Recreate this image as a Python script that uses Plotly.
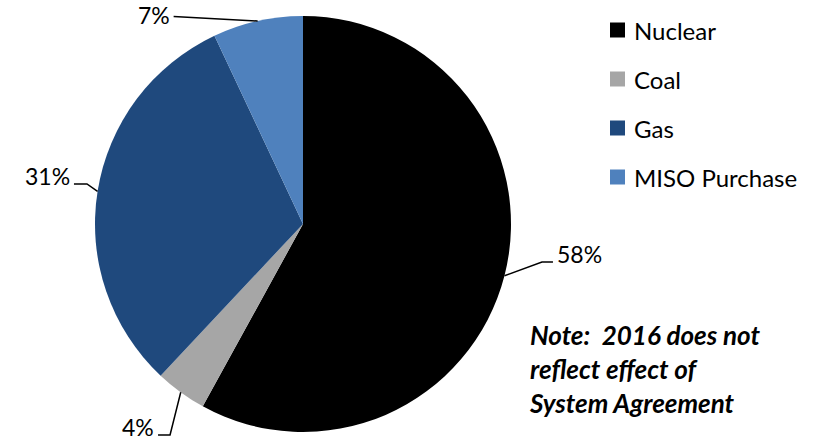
import math
import plotly.graph_objects as go

# Generation mix shares (percent)
sources = ["Nuclear", "Coal", "Gas", "MISO Purchase"]
shares = [58, 4, 31, 7]
colors = ["#000000", "#A6A6A6", "#1F497D", "#4F81BD"]

W, H = 827, 447
FONT = "Lato, 'Open Sans', sans-serif"
FS = 23

# Pie placement in pixels
CX, CY, R = 303, 224, 208

# Leader line layout per slice: elbow offset from the slice edge, horizontal tail length
leaders = [
    (37.5, -13.7, 11),
    (-10.7, 42.7, -12),
    (-10.6, -7.5, -13),
    (-84.0, -4.5, 0),
]


def px(x):
    return x / W


def py(y):
    return 1 - y / H


fig = go.Figure(
    go.Pie(
        labels=sources,
        values=shares,
        sort=False,
        direction="clockwise",
        rotation=0,
        marker=dict(colors=colors, line=dict(width=0)),
        textinfo="none",
        hoverinfo="label+percent",
        domain=dict(x=[px(CX - R), px(CX + R)], y=[py(CY + R), py(CY - R)]),
        showlegend=False,
    )
)

shapes = []
annotations = []

total = sum(shares)
cum = 0
for v, (edx, edy, tail) in zip(shares, leaders):
    mid = (cum + v / 2) / total * 2 * math.pi
    cum += v
    ex = CX + R * math.sin(mid)
    ey = CY - R * math.cos(mid)
    bx, by = ex + edx, ey + edy
    tx = bx + tail
    path = f"M {px(ex)} {py(ey)} L {px(bx)} {py(by)} L {px(tx)} {py(by)}"
    shapes.append(dict(type="path", path=path, xref="paper", yref="paper",
                       line=dict(color="black", width=1.5)))
    right_side = math.sin(mid) > 0
    label_y = by - 8
    anchor_y = "middle"
    if label_y < 15:
        # keep labels near the top edge inside the page
        label_y, anchor_y = 0, "top"
    annotations.append(dict(
        x=px(tx + (3 if right_side else -3)), y=py(label_y),
        xref="paper", yref="paper",
        text=f"{round(v / total * 100)}%",
        showarrow=False,
        xanchor="left" if right_side else "right",
        yanchor=anchor_y,
        borderpad=0,
        font=dict(family=FONT, size=FS, color="black"),
    ))

# Legend drawn as squares plus labels
leg_x, leg_y0, leg_dy, sq = 610, 30, 49, 15
for i, (name, c) in enumerate(zip(sources, colors)):
    yc = leg_y0 + i * leg_dy
    shapes.append(dict(type="rect", xref="paper", yref="paper",
                       x0=px(leg_x), x1=px(leg_x + sq),
                       y0=py(yc + sq / 2), y1=py(yc - sq / 2),
                       fillcolor=c, line=dict(width=0)))
    annotations.append(dict(
        x=px(leg_x + sq + 7), y=py(yc), xref="paper", yref="paper",
        text=name, showarrow=False, xanchor="left", yanchor="middle",
        font=dict(family=FONT, size=24, color="black"),
    ))

annotations.append(dict(
    x=px(527), y=py(369), xref="paper", yref="paper",
    text="<b><i>Note:  2016 does not<br>reflect effect of<br>System Agreement</i></b>",
    showarrow=False, xanchor="left", yanchor="middle", align="left",
    font=dict(family=FONT, size=26, color="black"),
))

fig.update_layout(
    width=W, height=H,
    margin=dict(l=0, r=0, t=0, b=0),
    paper_bgcolor="white",
    plot_bgcolor="white",
    shapes=shapes,
    annotations=annotations,
)

fig.write_html("out.html")
